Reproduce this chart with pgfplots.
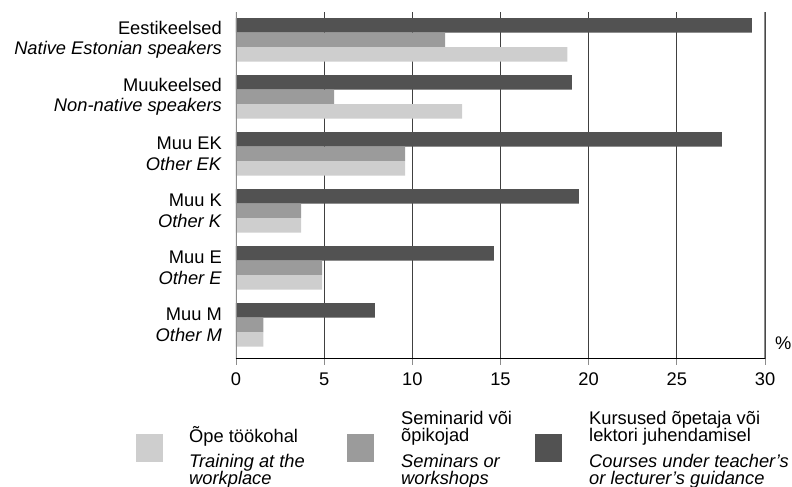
\documentclass[border=0pt]{standalone}
\usepackage{pgfplots}
\pgfplotsset{compat=1.18}
\usepackage{fontspec}
\setmainfont{Liberation Sans}
\definecolor{cdark}{HTML}{525252}
\definecolor{cmid}{HTML}{9B9B9B}
\definecolor{clight}{HTML}{CECECE}
\definecolor{cgrid}{HTML}{404040}
\definecolor{cedge}{HTML}{8C8C8C}
\begin{document}
\fontsize{18.3bp}{20.5bp}\selectfont
\begin{tikzpicture}
\useasboundingbox (0,0) rectangle (792bp,487bp);
\begin{axis}[
  at={(236bp,128bp)}, anchor=south west,
  scale only axis, width=529bp, height=347bp,
  xbar, bar width=14.5bp,
  xmin=0, xmax=30, ymin=-0.5965, ymax=5.491,
  xtick={0,5,...,30}, ytick={0,...,5},
  yticklabels={{Muu M\\\textit{Other M}},{Muu E\\\textit{Other E}},{Muu K\\\textit{Other K}},{Muu EK\\\textit{Other EK}},{Muukeelsed\\\textit{Non-native speakers}},{Eestikeelsed\\\textit{Native Estonian speakers}}},
  axis line style={draw=none},
  xmajorgrids, grid style={cgrid, line width=0.9bp},
  xtick pos=bottom, ytick pos=left,
  tick align=outside, major tick length=6bp,
  xtick style={cedge, line width=0.8bp},
  ytick style={draw=none},
  /pgf/number format/assume math mode=true,
  xticklabel style={inner sep=0pt, anchor=north, yshift=-8bp, font=\fontsize{18.3bp}{20.5bp}\selectfont},
  yticklabel style={align=right, inner sep=0pt, xshift=-8bp, font=\fontsize{18.3bp}{20.5bp}\selectfont},
]
\addplot[fill=cdark, draw=none, bar shift=14.5bp] coordinates {(7.88,0) (14.63,1) (19.45,2) (27.55,3) (19.05,4) (29.26,5)};
\addplot[fill=cmid, draw=none, bar shift=0bp] coordinates {(1.55,0) (4.89,1) (3.7,2) (9.59,3) (5.57,4) (11.86,5)};
\addplot[fill=clight, draw=none, bar shift=-14.5bp] coordinates {(1.55,0) (4.89,1) (3.7,2) (9.59,3) (12.82,4) (18.79,5)};
\draw[cedge, line width=1.3bp] (rel axis cs:0,0) -- (rel axis cs:0,1);
\draw[cedge, line width=1.3bp] (rel axis cs:1,0) -- (rel axis cs:1,1);
\draw[black, line width=2.7bp] (rel axis cs:0,0) -- (rel axis cs:1,0);
\end{axis}
\node[anchor=base west, inner sep=0pt] at (775bp,137bp) {\%};
\fill[clight] (136bp,25bp) rectangle (163bp,53bp);
\fill[cmid] (347bp,25bp) rectangle (374bp,53bp);
\fill[cdark] (535bp,25bp) rectangle (562bp,53bp);
\node[anchor=base west, inner sep=0pt] at (189bp,44bp) {Õpe töökohal};
\node[anchor=base west, inner sep=0pt] at (189bp,20bp) {\textit{Training at the}};
\node[anchor=base west, inner sep=0pt] at (189bp,3bp) {\textit{workplace}};
\node[anchor=base west, inner sep=0pt] at (401bp,62bp) {Seminarid või};
\node[anchor=base west, inner sep=0pt] at (401bp,45bp) {õpikojad};
\node[anchor=base west, inner sep=0pt] at (401bp,20bp) {\textit{Seminars or}};
\node[anchor=base west, inner sep=0pt] at (401bp,3bp) {\textit{workshops}};
\node[anchor=base west, inner sep=0pt] at (589bp,62bp) {Kursused õpetaja või};
\node[anchor=base west, inner sep=0pt] at (589bp,45bp) {lektori juhendamisel};
\node[anchor=base west, inner sep=0pt] at (589bp,20bp) {\textit{Courses under teacher’s}};
\node[anchor=base west, inner sep=0pt] at (589bp,3bp) {\textit{or lecturer’s guidance}};
\end{tikzpicture}
\end{document}
